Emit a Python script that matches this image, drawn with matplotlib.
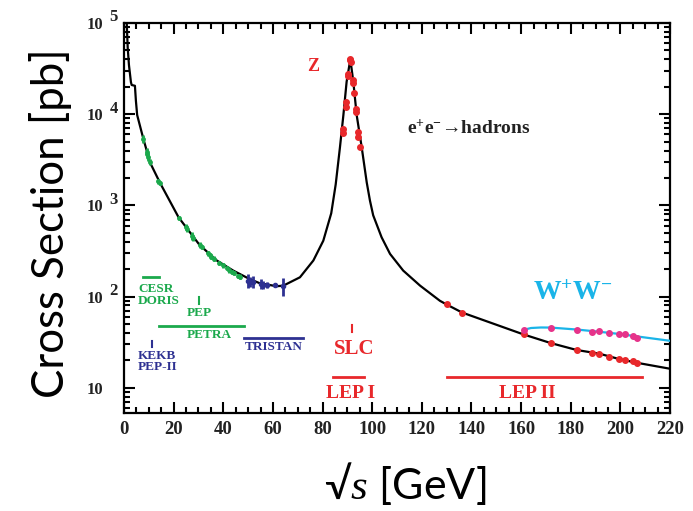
import numpy as np
import matplotlib
matplotlib.use("Agg")
import matplotlib.pyplot as plt
from matplotlib.ticker import MultipleLocator, LogLocator, NullFormatter, FixedLocator

plt.rcParams['mathtext.fontset'] = 'custom'
plt.rcParams['mathtext.rm'] = 'Liberation Serif:bold'
plt.rcParams['mathtext.bf'] = 'Liberation Serif:bold'
plt.rcParams['mathtext.it'] = 'Liberation Serif:italic'

# theory curve e+e- -> hadrons
curve_x = [1.1, 1.5, 2.0, 2.8, 3.1, 4.4, 4.8, 5.3, 7.7, 10.5, 14.5, 22.0, 30.4,
           37.3, 44.0, 50.8, 54.8, 57.5, 61.5, 64.2, 70.9, 76.3, 80.3, 83.5,
           85.3, 87.0, 88.4, 89.7, 91.2, 92.4, 93.75, 95.8, 97.8, 99.1, 100.4,
           103.8, 107.2, 112.5, 119.3, 127.3, 130.0, 136.2, 161.0, 171.9, 182.4,
           191.5, 199.5, 206.8, 220.0]
curve_y = [1e5, 5.3e4, 3.45e4, 2.24e4, 2.09e4, 2.05e4, 1.4e4, 9.8e3, 5.5e3, 2.95e3,
           1.77e3, 7.4e2, 3.7e2, 2.5e2, 1.93e2, 1.55e2, 1.40e2, 1.36e2, 1.30e2,
           1.32e2, 1.63e2, 2.49e2, 4.1e2, 8.2e2, 1.7e3, 4.3e3, 9.8e3, 2.27e4, 4.0e4,
           2.27e4, 9.8e3, 4.3e3, 1.79e3, 1.13e3, 7.8e2, 4.47e2, 2.94e2, 1.93e2,
           1.32e2, 90, 82, 67, 38.5, 31, 26, 23.7, 20.7, 18.8, 16.2]

# low energy data (CESR/DORIS/PEP/PETRA)
green_x = [7.8, 9.1, 9.4, 9.8, 10.5, 13.8, 14.5, 22.0, 25.0, 25.4, 27.5, 28.0, 30.6,
           31.3, 33.8, 34.6, 35.0, 36.4, 38.3, 39.8, 41.5, 42.5, 43.6, 44.2, 46.0, 46.8]
green_y = [5.4e3, 3.9e3, 3.7e3, 3.4e3, 3.0e3, 1.85e3, 1.75e3, 7.3e2, 5.8e2, 5.5e2,
           4.6e2, 4.4e2, 3.7e2, 3.5e2, 3.0e2, 2.85e2, 2.75e2, 2.6e2, 2.35e2, 2.2e2,
           2.05e2, 1.95e2, 1.87e2, 1.82e2, 1.70e2, 1.66e2]
green_err = [0.10, 0.08, 0.06, 0.10, 0.07, 0.06, 0.05, 0.06, 0.08, 0.07, 0.10, 0.08,
             0.07, 0.06, 0.06, 0.05, 0.07, 0.06, 0.05, 0.06, 0.05, 0.06, 0.05, 0.06,
             0.05, 0.06]

# TRISTAN
blue_x = [50.0, 50.8, 52.0, 55.0, 56.0, 57.8, 60.8, 64.0]
blue_y = [150, 145, 146, 138, 135, 134, 134, 131]
blue_err = [0.18, 0.12, 0.15, 0.12, 0.10, 0.08, 0.06, 0.22]

# Z peak (LEP I)
z_x = [91.0, 91.3, 91.2, 90.4, 90.2, 92.4, 92.4, 92.7, 89.4, 89.3, 93.35, 93.35,
       88.35, 88.35, 94.4, 94.4, 95.1]
z_y = [4.07e4, 3.76e4, 3.9e4, 2.73e4, 2.6e4, 2.4e4, 2.2e4, 1.71e4, 1.35e4, 1.2e4,
       1.15e4, 1.05e4, 6.8e3, 6.3e3, 6.4e3, 5.6e3, 4.4e3]

# LEP II
lep2_x = [130.0, 136.2, 161.2, 171.9, 182.4, 188.4, 191.5, 195.5, 199.5, 201.9, 205.0, 206.8]
lep2_y = [82, 67, 39, 31, 26, 24.3, 23.7, 22, 20.7, 20.4, 19.6, 18.8]

# W+W-
ww_x = [161.2, 171.9, 182.4, 188.4, 191.5, 195.5, 199.5, 201.9, 205.0, 206.8]
ww_y = [43.4, 45.7, 43.4, 41.2, 41.5, 40.2, 38.6, 38.6, 37.2, 35.4]
wwc_x = [161.2, 164.0, 168.0, 171.9, 182.4, 191.5, 199.5, 206.8, 220.0]
wwc_y = [43.4, 45.3, 45.9, 45.8, 43.6, 41.2, 39.0, 36.6, 32.8]

y_ticks = [10, 100, 1e3, 1e4, 1e5]
y_exp = ['', '2', '3', '4', '5']

RED = '#e8282b'
GREEN = '#1ba94c'
BLUE = '#2e3192'
CYAN = '#1ab4e8'
MAG = '#e6338a'

fig = plt.figure(figsize=(6.93, 5.11), dpi=100)
ax = fig.add_axes([124/693, 1-413/511, 546/693, 390/511])
ax.set_yscale('log')
ax.set_xlim(0, 220)
ax.set_ylim(5.3, 1e5)

ax.plot(curve_x, curve_y, color='black', lw=1.6, zorder=3)
ax.plot(wwc_x, wwc_y, color=CYAN, lw=1.6, zorder=3)

gy = np.array(green_y); ge = np.array(green_err) * gy
ax.errorbar(green_x, green_y, yerr=ge, fmt='o', ms=2.5, color=GREEN, elinewidth=2, capsize=0, zorder=4)
by = np.array(blue_y); be = np.array(blue_err) * by
ax.errorbar(blue_x, blue_y, yerr=be, fmt='o', ms=3, color=BLUE, elinewidth=2, capsize=0, zorder=4)
ax.plot(z_x, z_y, 'o', ms=4, color=RED, zorder=5)
ax.plot(lep2_x, lep2_y, 'o', ms=4, color=RED, zorder=5)
ax.plot(ww_x, ww_y, 'o', ms=4, color=MAG, zorder=5)

# collider ranges
serif = dict(family='Liberation Serif', weight='bold')
fs = 9.5
ax.plot([7.6, 14.1], [163, 163], color=GREEN, lw=2)
ax.text(5.6, 120, 'CESR', color=GREEN, fontsize=fs, ha='left', va='center', **serif)
ax.text(5.6, 89, 'DORIS', color=GREEN, fontsize=fs, ha='left', va='center', **serif)
ax.plot([30.2, 30.2], [83, 98], color=GREEN, lw=1.5)
ax.text(30.2, 67, 'PEP', color=GREEN, fontsize=fs, ha='center', va='center', **serif)
ax.plot([14.2, 48.2], [47.2, 47.2], color=GREEN, lw=2)
ax.text(34.3, 38.2, 'PETRA', color=GREEN, fontsize=fs, ha='center', va='center', **serif)
ax.plot([48.3, 72.2], [35.2, 35.2], color=BLUE, lw=2)
ax.text(60.3, 27.7, 'TRISTAN', color=BLUE, fontsize=fs, ha='center', va='center', **serif)
ax.plot([11.2, 11.2], [27.7, 32.8], color=BLUE, lw=1.5)
ax.text(5.6, 22.1, 'KEKB', color=BLUE, fontsize=fs, ha='left', va='center', **serif)
ax.text(5.6, 16.8, 'PEP-II', color=BLUE, fontsize=fs, ha='left', va='center', **serif)
ax.plot([92.0, 92.0], [40.7, 49], color=RED, lw=1.5)
ax.text(92.7, 26.6, 'SLC', color=RED, fontsize=15, ha='center', va='center', **serif)
ax.plot([84.3, 96.8], [13.0, 13.0], color=RED, lw=2)
ax.text(91.2, 8.65, 'LEP I', color=RED, fontsize=14, ha='center', va='center', **serif)
ax.plot([130.0, 208.8], [13.0, 13.0], color=RED, lw=2)
ax.text(162.4, 8.65, 'LEP II', color=RED, fontsize=14, ha='center', va='center', **serif)

ax.text(76.1, 3.37e4, 'Z', color=RED, fontsize=13, ha='center', va='center', **serif)
ax.text(114.0, 7.0e3, 'e$^{+}$e$^{-}$\u2192hadrons', color='#222222', fontsize=14,
        ha='left', va='center', **serif)
ax.text(164.8, 108, 'W$^{+}$W$^{-}$', color=CYAN, fontsize=20, ha='left', va='center', **serif)

# axes cosmetics
for s in ax.spines.values():
    s.set_linewidth(1.6)
ax.xaxis.set_major_locator(MultipleLocator(20))
ax.xaxis.set_minor_locator(MultipleLocator(5))
ax.yaxis.set_major_locator(FixedLocator(y_ticks))
ax.yaxis.set_minor_locator(LogLocator(base=10, subs=np.arange(2, 10)))
ax.yaxis.set_minor_formatter(NullFormatter())
ax.tick_params(which='both', direction='in', top=True, right=True, width=1.5)
ax.tick_params(which='major', length=8)
ax.tick_params(which='minor', length=4.5)
ax.tick_params(axis='x', pad=6)
ax.tick_params(axis='y', pad=15)
ax.set_xticks(range(0, 221, 20))
ax.set_xticklabels([str(v) for v in range(0, 221, 20)], fontsize=13.5, color='#222222', **serif)
ax.set_yticks(y_ticks)
ax.set_yticklabels(['10'] * len(y_ticks), fontsize=12, color='#222222', **serif)
for yv, e in zip(y_ticks, y_exp):
    if e:
        ax.annotate(e, xy=(0, yv), xycoords=('axes fraction', 'data'),
                    xytext=(-10.5, 4), textcoords='offset points',
                    ha='left', va='center', fontsize=12, color='#222222', **serif)

ax.set_ylabel('Cross Section [pb]', family='Lato', fontsize=31.5)
ax.yaxis.set_label_coords(-0.095, 0.487)
ax.set_xlabel('\u221a$\\mathit{s}$ [GeV]', family=['Lato', 'DejaVu Sans'], fontsize=31)
ax.xaxis.set_label_coords(0.515, -0.12)

fig.savefig('out.png', dpi=100)
